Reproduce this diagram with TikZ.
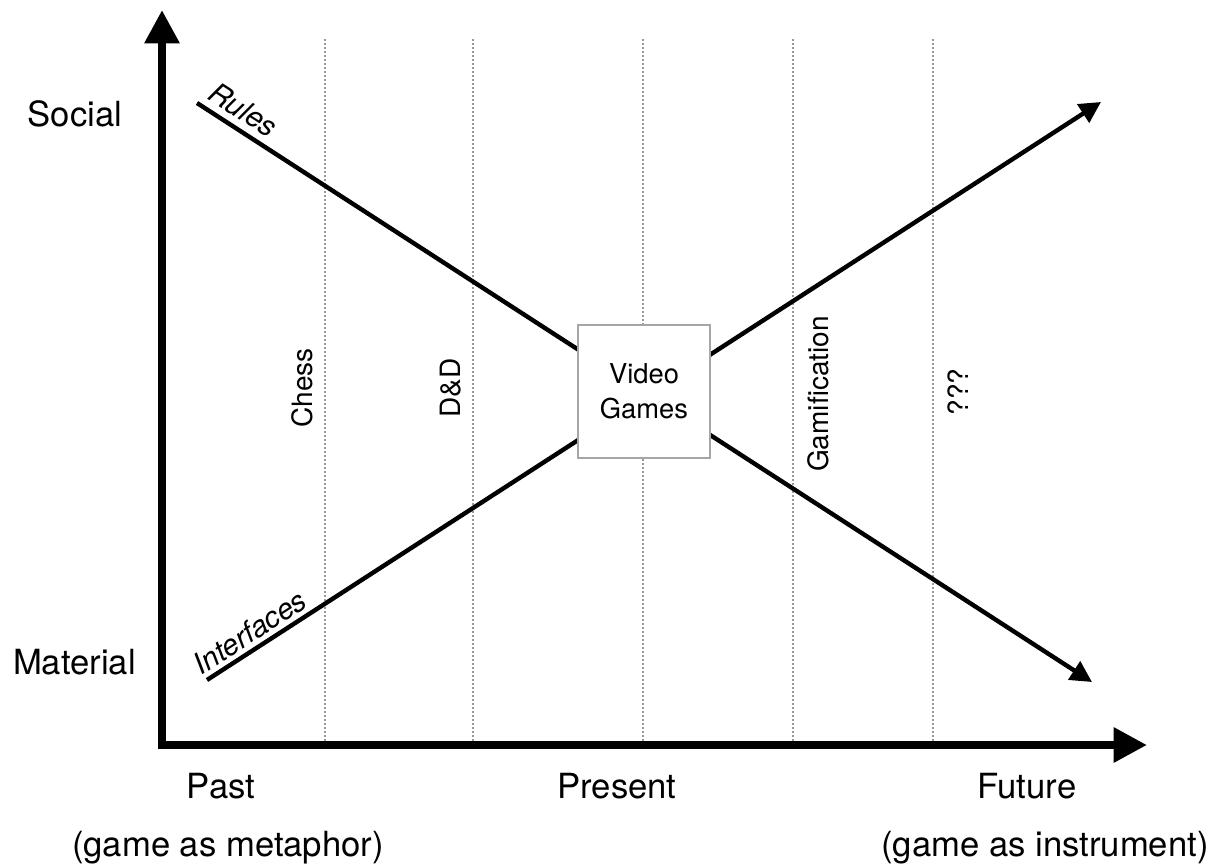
\documentclass[tikz,border=0pt]{standalone}
\usepackage{fontspec}
\setmainfont{TeX Gyre Heros}
\usetikzlibrary{arrows.meta}
\begin{document}
\begin{tikzpicture}[
  x=0.75pt, y=0.75pt,
  axis/.style={line width=6pt, {Triangle[length=25pt,width=25pt]}-{Triangle[length=25pt,width=25pt]}},
  trend/.style={line width=3.3pt, -{Triangle[length=16pt,width=16pt]}},
  era/.style={draw=gray!80, line width=1.5pt, dash pattern=on 1.5pt off 1.5pt},
  axislabel/.style={font=\fontsize{26}{32}\selectfont, anchor=base},
  eralabel/.style={font=\fontsize{21}{25}\selectfont, rotate=90, anchor=base},
  linelabel/.style={font=\fontsize{22}{26}\selectfont\itshape, sloped, above, inner sep=3pt},
  box/.style={draw=gray!70, line width=1.5pt, fill=white, minimum size=99pt, align=center, font=\fontsize{20.5}{26}\selectfont}
]
\useasboundingbox (0,0) rectangle (1209,865);
\coordinate (ytip) at (162,855);
\coordinate (xtip) at (1147,120);
\coordinate (rules start) at (197,762);
\coordinate (rules end) at (1092,183);
\coordinate (interfaces start) at (207,185);
\coordinate (interfaces end) at (1101,763);
\foreach \x in {325,473,643,793,933}
  \draw[era] (\x,120) -- (\x,827);
\draw[axis] (ytip) |- (xtip);
\draw[trend] (rules start) -- node[linelabel, pos=0.04, inner sep=5pt] (rules) {Rules} (rules end);
\draw[trend] (interfaces start) -- node[linelabel, pos=0.058] (interfaces) {Interfaces} (interfaces end);
\node[box] (videogames) at (644,473.5) {Video\\Games};
\node[eralabel] (chess) at (312,477) {Chess};
\node[eralabel] (dnd) at (460,477) {D\&D};
\node[eralabel] (gamification) at (828,471) {Gamification};
\node[eralabel] (unknown) at (968,473) {???};
\node[axislabel] (social) at (75,738) {Social};
\node[axislabel] (material) at (74.5,191) {Material};
\node[axislabel] (past) at (221,67) {Past};
\node[axislabel] (present) at (617,67) {Present};
\node[axislabel] (future) at (1027,67) {Future};
\node[axislabel] (metaphor) at (228,9) {(game as metaphor)};
\node[axislabel] (instrument) at (1045,9) {(game as instrument)};
\end{tikzpicture}
\end{document}
